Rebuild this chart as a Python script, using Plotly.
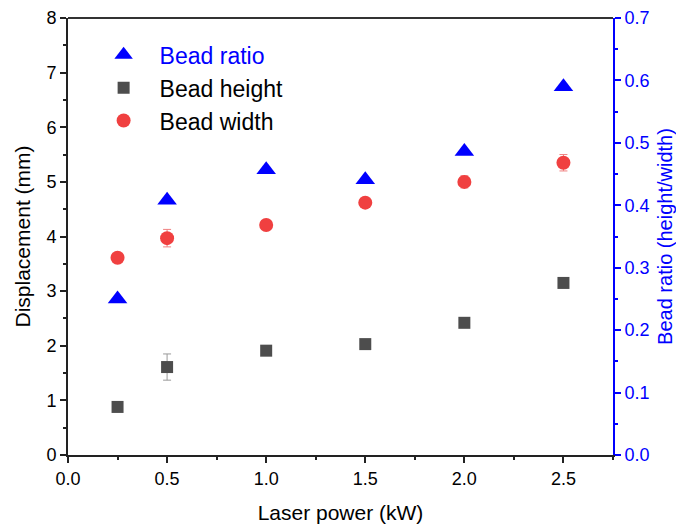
import plotly.graph_objects as go

power = [0.25, 0.5, 1.0, 1.5, 2.0, 2.5]
bead_height = [0.88, 1.61, 1.91, 2.03, 2.42, 3.15]
bead_height_err = [0.04, 0.24, 0.05, 0.04, 0.05, 0.05]
bead_width = [3.61, 3.97, 4.21, 4.62, 5.0, 5.35]
bead_width_err = [0.04, 0.16, 0.05, 0.06, 0.11, 0.15]
bead_ratio = [0.25, 0.408, 0.457, 0.441, 0.486, 0.59]

font_family = "Liberation Sans, Arial, sans-serif"

fig = go.Figure()

fig.add_trace(go.Scatter(
    x=power, y=bead_ratio, mode="markers", yaxis="y2",
    name='<span style="color:#0000FF">Bead ratio</span>',
    marker=dict(symbol="triangle-up", size=17, color="#0000FF"),
))
fig.add_trace(go.Scatter(
    x=power, y=bead_height, mode="markers", name="Bead height",
    marker=dict(symbol="square", size=12, color="#4D4D4D"),
    error_y=dict(type="data", array=bead_height_err, color="#9a9a9a", thickness=1, width=4),
))
fig.add_trace(go.Scatter(
    x=power, y=bead_width, mode="markers", name="Bead width",
    marker=dict(symbol="circle", size=14, color="#F04040"),
    error_y=dict(type="data", array=bead_width_err, color="#F08080", thickness=1, width=4),
))

fig.update_layout(
    width=676, height=516,
    margin=dict(l=60, r=71, t=10, b=69, autoexpand=False),
    paper_bgcolor="white", plot_bgcolor="white",
    font=dict(family=font_family, size=18, color="black"),
    showlegend=True,
    legend=dict(
        x=0.036, y=0.965, xanchor="left", yanchor="top",
        font=dict(size=23, color="black"),
        bgcolor="rgba(0,0,0,0)", tracegroupgap=0,
        itemwidth=62,
    ),
    xaxis=dict(
        range=[0, 2.75], dtick=0.5, tick0=0, tickformat=".1f",
        showline=True, linecolor="#222", linewidth=2, mirror=False,
        ticks="outside", ticklen=6, tickwidth=1.5, tickcolor="#222",
        minor=dict(ticks="outside", ticklen=3, dtick=0.25, tickcolor="#222"),
        showgrid=False, zeroline=False, automargin=False,
        title=dict(text="Laser power (kW)", font=dict(size=21), standoff=25),
        tickfont=dict(size=18),
    ),
    yaxis=dict(
        range=[0, 8], dtick=1,
        showline=True, linecolor="#222", linewidth=2,
        ticks="outside", ticklen=6, tickwidth=1.5, tickcolor="#222",
        minor=dict(ticks="outside", ticklen=3, dtick=0.5, tickcolor="#222"),
        showgrid=False, zeroline=False, automargin=False,
        title=dict(text="Displacement (mm)", font=dict(size=21), standoff=10),
        tickfont=dict(size=18),
    ),
    yaxis2=dict(
        range=[0, 0.7], dtick=0.1, tickformat=".1f",
        overlaying="y", side="right",
        showline=True, linecolor="#0000FF", linewidth=2,
        ticks="outside", ticklen=6, tickwidth=1.5, tickcolor="#0000FF",
        minor=dict(ticks="outside", ticklen=3, dtick=0.05, tickcolor="#0000FF"),
        showgrid=False, zeroline=False, automargin=False,
        title=dict(text="Bead ratio (height/width)", font=dict(size=20, color="#0000FF"), standoff=9),
        tickfont=dict(size=18, color="#0000FF"),
    ),
)

# top frame line
fig.add_shape(type="line", xref="paper", yref="paper", x0=0, x1=1, y0=1, y1=1,
              line=dict(color="#333", width=2))

fig.write_html("out.html")
